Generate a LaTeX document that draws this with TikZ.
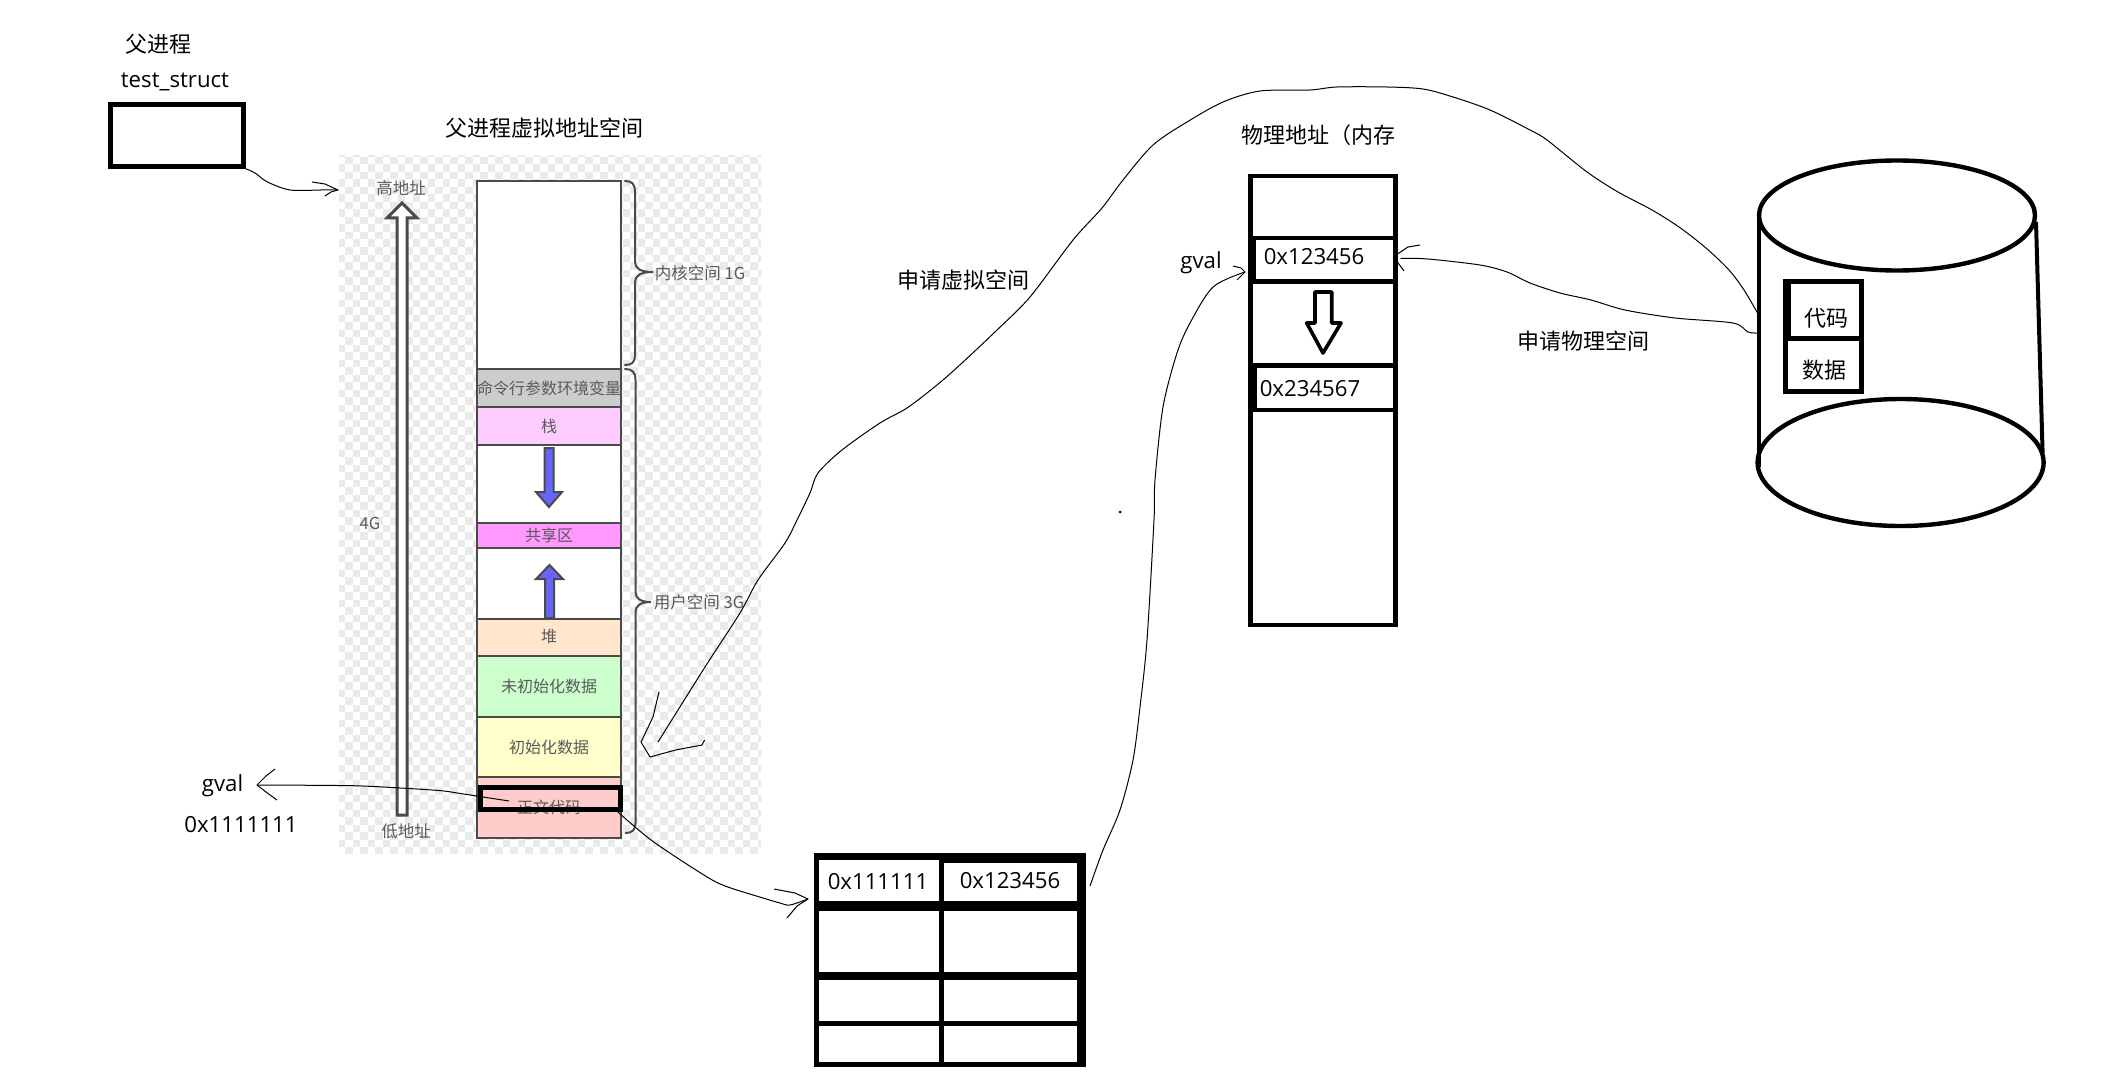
\documentclass[tikz,border=0pt]{standalone}
\usepackage{fontspec}
\setmainfont{Open Sans}
\newfontfamily\cjk{Noto Sans CJK SC}
\definecolor{inkgrey}{HTML}{4A4A4A}
\definecolor{labelgrey}{HTML}{5A5A5A}
\definecolor{checker}{HTML}{EAEAEA}
\definecolor{arrowblue}{HTML}{6666FF}
\definecolor{cmdfill}{HTML}{CCCCCC}
\definecolor{stackfill}{HTML}{FFCCFF}
\definecolor{sharedfill}{HTML}{FF99FF}
\definecolor{heapfill}{HTML}{FFE6CC}
\definecolor{bssfill}{HTML}{CCFFCC}
\definecolor{datafill}{HTML}{FFFFCC}
\definecolor{codefill}{HTML}{FFCCCC}
\newcommand{\fs}[1]{\fontsize{#1}{#1}\selectfont}
\tikzset{
  hand/.style={draw=black,line width=1pt,line join=round},
  handcurve/.style={smooth,tension=0.5},
  seg/.style={draw=inkgrey,line width=2.5pt,minimum width=144pt,inner sep=0pt,outer sep=0pt,font=\cjk\fs{16},text=labelgrey},
  graytext/.style={font=\cjk\fs{16.5},text=labelgrey,inner sep=0pt},
  title/.style={font=\cjk\fs{22},inner sep=0pt},
  latin/.style={font=\fs{22.2},inner sep=0pt,anchor=base},
  heavy/.style={draw=black,line width=4.4pt},
  cell/.style={fill=white,draw=none},
}
\begin{document}
\begin{tikzpicture}[x=1pt,y=-1pt]
\useasboundingbox (0,0) rectangle (2115,1086);
\fill[white] (0,0) rectangle (2115,1086);
% checker panel
\begin{scope}
\clip (339,156) rectangle (761,853);
\foreach \i in {0,...,57}{\foreach \j in {0,...,95}{
  \pgfmathtruncatemacro\k{mod(\i+\j,2)}
  \ifnum\k=0
    \fill[checker] ({337.5+7.5*\i},{149.5+7.5*\j}) rectangle ++(7.5,7.5);
  \fi
}}
\end{scope}
% parent process
\node[title] (parentlabel) at (158,44) {父进程};
\node[latin] (structlabel) at (175,87.5) {test\_struct};
\node[draw=black,line width=4.6pt,minimum width=133pt,minimum height=62pt,inner sep=0pt] (structbox) at (177,135.5) {};
\node[title] (vtitle) at (544,128.5) {父进程虚拟地址空间};
% segments
\node[seg,fill=white,minimum height=188pt] (kernel) at (549,275) {};
\node[seg,fill=cmdfill,minimum height=38pt] (cmd) at (549,388) {\raisebox{-5pt}{命令行参数环境变量}};
\node[seg,fill=stackfill,minimum height=38pt] (stack) at (549,426) {\raisebox{-5.5pt}{栈}};
\node[seg,fill=white,minimum height=78pt] (gapa) at (549,484) {};
\node[seg,fill=sharedfill,minimum height=25pt] (shared) at (549,535.5) {\raisebox{2.5pt}{共享区}};
\node[seg,fill=white,minimum height=71pt] (gapb) at (549,583.5) {};
\node[seg,fill=heapfill,minimum height=37pt] (heap) at (549,637.5) {\raisebox{3.5pt}{堆}};
\node[seg,fill=bssfill,minimum height=61pt] (bss) at (549,686.5) {\raisebox{-1pt}{未初始化数据}};
\node[seg,fill=datafill,minimum height=60pt] (data) at (549,747) {初始化数据};
\node[seg,fill=codefill,minimum height=61pt] (code) at (549,807.5) {正文代码};
\node[draw=black,line width=5pt,minimum width=140pt,minimum height=22.5pt,inner sep=0pt] (codebox) at (550,798.5) {};
% blue arrows
\draw[draw=inkgrey,line width=2pt,fill=arrowblue,line join=miter]
  (544.5,448) -- (553.5,448) -- (553.5,492) -- (562,492) -- (549,507) -- (536,492) -- (544.5,492) -- cycle;
\draw[draw=inkgrey,line width=2pt,fill=arrowblue,line join=miter]
  (545,618) -- (554,618) -- (554,579) -- (563,579) -- (549.5,565) -- (536,579) -- (545,579) -- cycle;
% address axis
\node[graytext] (high) at (401,188) {高地址};
\node[graytext] (low) at (406,831) {低地址};
\node[graytext] (fourg) at (370,523) {4G};
\draw[draw=inkgrey,line width=3pt,fill=white,line join=miter]
  (397,815) -- (407,815) -- (407,218) -- (417,218) -- (402,203) -- (387,218) -- (397,218) -- cycle;
% braces
\draw[draw=inkgrey,line width=2pt,line cap=round]
  (625,181) .. controls (632,181) and (635,184) .. (635,192) -- (635,262)
  .. controls (635,268) and (640,272) .. (653,272)
  .. controls (640,272) and (635,276) .. (635,282) -- (635,355)
  .. controls (635,362) and (632,365) .. (625,365);
\draw[draw=inkgrey,line width=2pt,line cap=round]
  (625,369) .. controls (632,369) and (635.5,372) .. (635.5,380) -- (635.5,592)
  .. controls (635.5,598) and (640,602) .. (651,602)
  .. controls (640,602) and (635.5,606) .. (635.5,612) -- (635.5,823)
  .. controls (635.5,830) and (632,833) .. (625.6,833);
\node[graytext] (kernellabel) at (700,273) {内核空间 1G};
\node[graytext] (userlabel) at (699,602) {用户空间 3G};
% gval left
\node[latin] (gvalleft) at (222.5,791.5) {gval};
\node[latin] (gvaladdr) at (241,832.5) {0x1111111};
% page table
\node[fill=black,minimum width=272pt,minimum height=213.5pt,inner sep=0pt] (table) at (950,960) {};
\fill[cell] (819.3,860) rectangle (939,900.7);
\fill[cell] (944,862.7) rectangle (1076.7,900.7);
\fill[cell] (819.3,910.7) rectangle (939,972);
\fill[cell] (944,910.7) rectangle (1076.7,972);
\fill[cell] (819,980) rectangle (939,1020.7);
\fill[cell] (944,980) rectangle (1076.7,1020.7);
\fill[cell] (819,1025.7) rectangle (939,1062);
\fill[cell] (944,1025.7) rectangle (1076.7,1062);
\node[latin] (vaddr) at (878,889) {0x111111};
\node[latin] (paddr) at (1010,888) {0x123456};
% physical memory
\node[title,anchor=west] (memtitle) at (1241,135) {物理地址（内存};
\node[draw=black,line width=4.4pt,minimum width=145pt,minimum height=449pt,inner sep=0pt] (mem) at (1323,400.7) {};
\fill[black] (1250,236) rectangle (1396,240.5);
\fill[black] (1250,279) rectangle (1396,283.5);
\fill[black] (1250,363.4) rectangle (1396,368);
\fill[black] (1250,407.5) rectangle (1396,411.6);
\fill[black] (1250,240) rectangle (1256,279);
\fill[black] (1250,368) rectangle (1257,408);
\node[latin] (memold) at (1314,265) {0x123456};
\node[latin] (memnew) at (1310,396) {0x234567};
\node[latin] (gvalright) at (1201,268.5) {gval};
\draw[draw=black,line width=3.6pt,line join=round,fill=white]
  (1315,292) -- (1331.7,292) -- (1331.7,323) -- (1341,323) -- (1323,353) -- (1306.7,323) -- (1315,323) -- cycle;
% disk
\draw[heavy] (1897,215.5) ellipse [x radius=138,y radius=55];
\draw[heavy] (1900.6,462.5) ellipse [x radius=143,y radius=63.5];
\coordinate (diskleft) at (1759,333);
\coordinate (diskleftb) at (1757.5,313);
\draw[line width=4pt] (1759,217) -- (1759,467);
\draw[line width=4pt] (2036,222) -- (2042.6,453);
\node[fill=black,minimum width=81pt,minimum height=115pt,inner sep=0pt] (diskbox) at (1823.5,336.5) {};
\fill[cell] (1790.7,284) rectangle (1859,336);
\fill[cell] (1788,341) rectangle (1859,389);
\node[title] (codelabel) at (1826,318) {代码};
\node[title] (datalabel) at (1824,370) {数据};
\node[title] (applyv) at (963,280) {申请虚拟空间};
\node[title] (applyp) at (1583.5,341) {申请物理空间};
% connectors
\draw[hand] plot[handcurve] coordinates {(structbox.south east) (255,173) (267.5,182) (290,190) (321,190) (338,190)};
\draw[hand] (312,182) -- (325,184) -- (338,190) -- (331,192) -- (325,196);
\draw[hand] plot[handcurve] coordinates {(509,801) (463.6,794) (441,790.7) (400,788) (352,785.7) (257,785)};
\draw[hand] (275,769) -- (266,776) -- (257,785) -- (266,792) -- (277,800);
\coordinate (codeout) at (617.6,811.7);
\draw[hand] plot[handcurve] coordinates {(codeout) (651,840) (696,870) (722.5,885) (763,898) (780,903) (790,905) (808,899)};
\draw[hand] (774,889) -- (795,893) -- (808,899) -- (797,906) -- (787,918);
\coordinate (tableout) at (1090,886);
\draw[hand] plot[handcurve] coordinates {(tableout) (1103,850) (1120,810) (1133,760) (1140,707) (1147,640) (1154,520) (1155,480) (1163,407) (1177,353) (1190,323) (1213,287) (1245,272)};
\draw[hand] (1233,266) -- (1241,268) -- (1245,272) -- (1241,276) -- (1237,280);
\coordinate (physend) at (1400.7,258.3);
\draw[hand] plot[handcurve] coordinates {(diskleft) (1748,332) (1733,323) (1675,318) (1625,310) (1591,300) (1560,293) (1530,283) (1507,272) (1480,265) (1428,259) (physend)};
\draw[hand] (1420,245) -- (1408,247) -- (1396,255) -- (1398,263) -- (1404,271);
\coordinate (virtend) at (658,742);
\draw[hand] plot[handcurve] coordinates {(diskleftb) (1744,290) (1729,270) (1706,248) (1679,227) (1652,210) (1618,192) (1587,172) (1547,140) (1530,130) (1490,110) (1453,97) (1423,89) (1387,87) (1337,87) (1310,90) (1260,91) (1223,102) (1187,122) (1153,145) (1123,180) (1102,208) (1073,240) (1030,297) (997,330) (962,363) (937,385) (907,408) (880,423) (842,450) (818,473) (810,493) (797,520) (785,543) (758,580) (740,613) (705,667) (virtend)};
\draw[hand] (659,692) -- (653,717) -- (641,742) -- (650,757) -- (675.6,750) -- (702,745) -- (704.6,740);
% stray dot
\fill[black] (1120,512) circle (1.5);
\end{tikzpicture}
\end{document}
